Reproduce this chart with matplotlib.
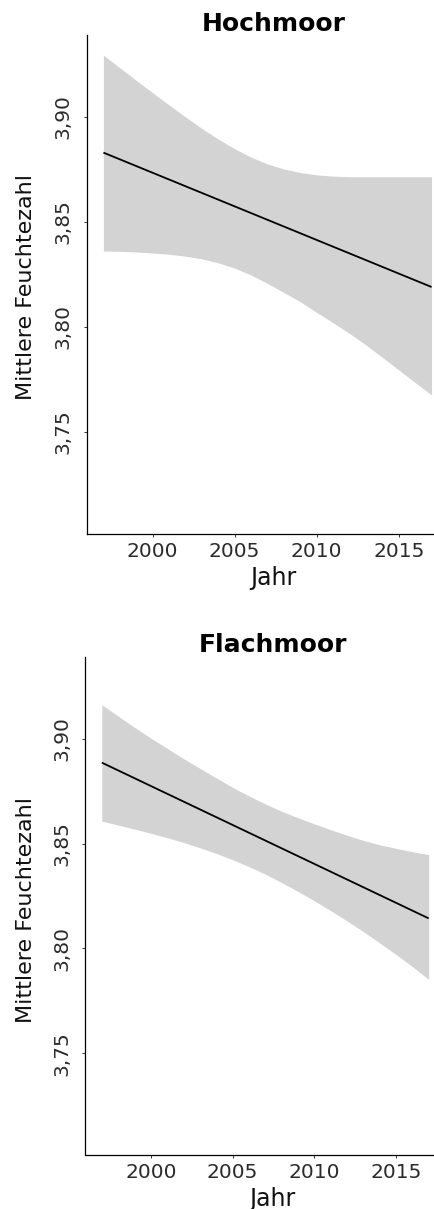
import numpy as np
import matplotlib.pyplot as plt

years = [1997, 1998, 1999, 2000, 2001, 2002, 2003, 2004, 2005, 2006, 2007,
         2008, 2009, 2010, 2011, 2012, 2013, 2014, 2015, 2016, 2017]

# Hochmoor: confidence band
hoch_upper = [3.9294, 3.9234, 3.9174, 3.9115, 3.9057, 3.9000, 3.8945, 3.8894, 3.8848, 3.8808, 3.8776,
              3.8752, 3.8735, 3.8724, 3.8718, 3.8715, 3.8715, 3.8715, 3.8715, 3.8715, 3.8715]
hoch_lower = [3.8361, 3.8360, 3.8357, 3.8352, 3.8346, 3.8337, 3.8324, 3.8305, 3.8280, 3.8247, 3.8207,
              3.8164, 3.8120, 3.8069, 3.8020, 3.7969, 3.7914, 3.7855, 3.7795, 3.7735, 3.7676]
hoch_fit_years = [1997, 2017]
hoch_fit = [3.8830, 3.8190]

# Flachmoor
flach_upper = [3.9162, 3.9108, 3.9054, 3.9003, 3.8954, 3.8905, 3.8859, 3.8813, 3.8768, 3.8727, 3.8689,
               3.8654, 3.8623, 3.8594, 3.8566, 3.8540, 3.8515, 3.8494, 3.8477, 3.8461, 3.8447]
flach_lower = [3.8607, 3.8588, 3.8569, 3.8549, 3.8528, 3.8505, 3.8480, 3.8453, 3.8423, 3.8390, 3.8354,
               3.8314, 3.8272, 3.8227, 3.8180, 3.8131, 3.8080, 3.8026, 3.7971, 3.7913, 3.7852]
flach_fit_years = [1997, 2017]
flach_fit = [3.8886, 3.8143]

x_ticks = [2000, 2005, 2010, 2015]
y_ticks = [3.75, 3.80, 3.85, 3.90]
y_labels = ['3,75', '3,80', '3,85', '3,90']

W, H = 435, 1209
fig = plt.figure(figsize=(W / 100, H / 100), dpi=100)
fig.patch.set_facecolor('white')

ax1 = fig.add_axes([87 / W, (H - 534) / H, (448 - 87) / W, 499 / H])
ax2 = fig.add_axes([85.5 / W, (H - 1155) / H, (445 - 85.5) / W, 498 / H])

panels = [
    (ax1, hoch_upper, hoch_lower, hoch_fit_years, hoch_fit),
    (ax2, flach_upper, flach_lower, flach_fit_years, flach_fit),
]

for ax, up, lo, fy, fv in panels:
    ax.fill_between(years, lo, up, color='#d3d3d3', linewidth=0)
    ax.plot(fy, fv, color='black', linewidth=1.3, solid_capstyle='butt')
    ax.set_xlim(1996, 2018)
    ax.set_ylim(3.7014, 3.939)
    ax.set_xticks(x_ticks)
    ax.set_yticks(y_ticks)
    ax.set_yticklabels(y_labels)
    ax.spines['top'].set_visible(False)
    ax.spines['right'].set_visible(False)
    for s in ['left', 'bottom']:
        ax.spines[s].set_linewidth(0.9)
        ax.spines[s].set_color('black')
    ax.tick_params(axis='both', length=2.2, width=0.7, color='#333333',
                   labelsize=14.5, labelcolor='#2b2b2b')
    ax.tick_params(axis='y', labelrotation=90, pad=8)
    ax.tick_params(axis='x', pad=3.6)
    for lab in ax.get_yticklabels():
        lab.set_va('center')

fig.text(274 / W, 1 - 24 / H, 'Hochmoor', ha='center', va='center',
         fontsize=18, fontweight='bold', color='black')
fig.text(26 / W, 1 - 287 / H, 'Mittlere Feuchtezahl', ha='center', va='center',
         rotation=90, fontsize=16, color='#111111')
fig.text(273 / W, 1 - 578 / H, 'Jahr', ha='center', va='center',
         fontsize=17, color='#111111')

fig.text(273 / W, 1 - 645 / H, 'Flachmoor', ha='center', va='center',
         fontsize=18, fontweight='bold', color='black')
fig.text(26 / W, 1 - 910 / H, 'Mittlere Feuchtezahl', ha='center', va='center',
         rotation=90, fontsize=16, color='#111111')
fig.text(272 / W, 1 - 1199 / H, 'Jahr', ha='center', va='center',
         fontsize=17, color='#111111')

fig.savefig('out.png', dpi=100, facecolor='white')
